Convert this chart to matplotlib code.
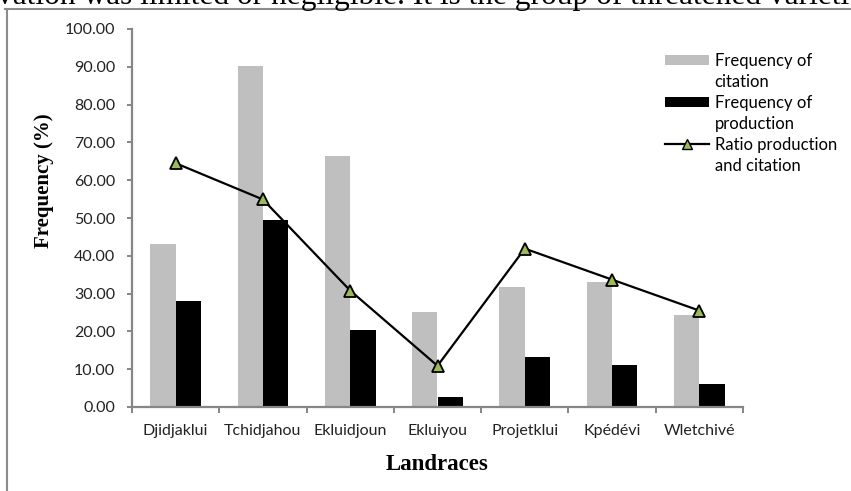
import matplotlib
matplotlib.use("Agg")
import matplotlib.pyplot as plt
from matplotlib.lines import Line2D
from matplotlib.patches import Patch
import numpy as np

categories = ["Djidjaklui", "Tchidjahou", "Ekluidjoun", "Ekluiyou", "Projetklui", "Kpédévi", "Wletchivé"]
freq_citation = [43.2, 90.3, 66.5, 25.2, 31.8, 33.0, 24.3]
freq_production = [28.0, 49.6, 20.5, 2.7, 13.2, 11.1, 6.2]
ratio = [64.5, 54.9, 30.8, 10.9, 41.9, 33.7, 25.5]
yticks = [0, 10, 20, 30, 40, 50, 60, 70, 80, 90, 100]

sans = ["Lato", "DejaVu Sans"]
serif = ["Liberation Serif", "DejaVu Serif"]

GRAY = "#BFBFBF"
GREEN = "#9BBB59"
AX = "#868686"

fig = plt.figure(figsize=(8.51, 4.91), dpi=100)
ax = fig.add_axes([132 / 851, 1 - 407 / 491, 611 / 851, 378 / 491])

x = np.arange(len(categories))
w = 0.29
ax.bar(x - w / 2, freq_citation, width=w, color=GRAY, zorder=2)
ax.bar(x + w / 2, freq_production, width=w, color="#000000", zorder=2)
ax.plot(x, ratio, color="black", lw=1.6, marker="^", markersize=9,
        markerfacecolor=GREEN, markeredgecolor="black", markeredgewidth=1.3, zorder=3)

ax.set_xlim(-0.5, len(categories) - 0.5)
ax.set_ylim(0, 100)
ax.set_yticks(yticks)
ax.set_yticklabels([f"{v:.2f}" for v in yticks], fontfamily=sans, fontsize=11.5, color="#222222")
ax.set_xticks(x)
ax.set_xticklabels(categories, fontfamily=sans, fontsize=11.5, color="#222222")
ax.set_xticks(np.arange(len(categories) + 1) - 0.5, minor=True)
ax.tick_params(axis="x", which="major", length=0, pad=12)
ax.tick_params(axis="x", which="minor", length=4, color=AX, width=1.4)
ax.tick_params(axis="y", length=3.6, color=AX, width=1.4, pad=8.5)

for s in ["top", "right"]:
    ax.spines[s].set_visible(False)
for s in ["left", "bottom"]:
    ax.spines[s].set_color(AX)
    ax.spines[s].set_linewidth(1.6)

ax.set_ylabel("Frequency (%)", fontfamily=serif, fontweight="bold", fontsize=15)
ax.yaxis.set_label_coords(-0.128, 0.60)
ax.set_xlabel("Landraces", fontfamily=serif, fontweight="bold", fontsize=16.5, va="top")
ax.xaxis.set_label_coords(0.5, -0.125)

# legend: one row per text line so that each key sits on the first line of its label
blank = Patch(facecolor="none", edgecolor="none")
handles = [Patch(facecolor=GRAY), blank,
           Patch(facecolor="black"), blank,
           Line2D([], [], color="black", lw=1.6, marker="^", markersize=7,
                  markerfacecolor=GREEN, markeredgecolor="black"), blank]
labels = ["Frequency of", "citation", "Frequency of", "production", "Ratio production", "and citation"]
ax.legend(handles, labels, loc="upper left", bbox_to_anchor=(0.872, 0.937), frameon=False,
          prop={"family": sans, "size": 12}, handlelength=2.64, handleheight=0.6,
          handletextpad=0.35, labelspacing=0.3, borderaxespad=0, borderpad=0)

# surrounding frame and cropped document text
fig.add_artist(Line2D([5 / 851, 1.0], [1 - 9 / 491, 1 - 9 / 491], transform=fig.transFigure,
                      color="#8c8c8c", lw=1.5))
fig.add_artist(Line2D([7 / 851, 7 / 851], [0, 1 - 9 / 491], transform=fig.transFigure,
                      color="#8c8c8c", lw=1.5))
fig.text(-0.004, 1 - 4 / 491, "vation was limited or negligible. It is the group of threatened varieti",
         fontfamily=serif, fontsize=22.6, va="baseline", ha="left")

fig.savefig("out.png", dpi=100)
